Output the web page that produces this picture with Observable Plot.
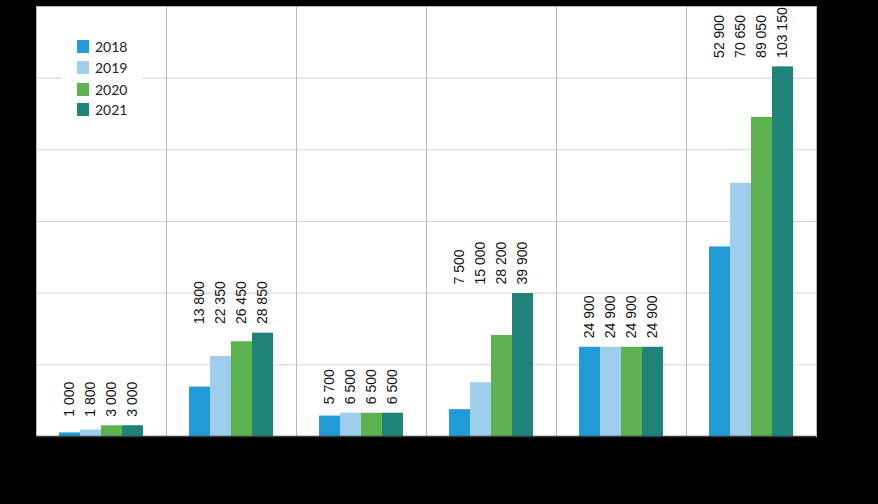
<!DOCTYPE html>
<html>
<head>
<meta charset="utf-8">
<script src="https://cdn.jsdelivr.net/npm/d3@7"></script>
<script src="https://cdn.jsdelivr.net/npm/@observablehq/plot@0.6"></script>
<style>
  html, body { margin: 0; padding: 0; background: #000; }
  #wrap { position: relative; width: 878px; height: 504px; overflow: hidden; background: #000; }
  #legend { position: absolute; left: 62px; top: 30px; width: 80px; height: 92px; background: #fff;
            font-family: Lato, "Open Sans", sans-serif; font-size: 14px; color: #222; }
  .item { position: absolute; left: 15px; height: 14px; display: flex; align-items: center; }
  .sw { width: 12px; height: 13px; margin-right: 6px; }
</style>
</head>
<body>
<div id="wrap"><div id="legend"></div></div>
<script>
// Data
const categories = ["1", "2", "3", "4", "5", "6"];
const years = ["2018", "2019", "2020", "2021"];
const v2018 = [1000, 13800, 5700, 7500, 24900, 52900];
const v2019 = [1800, 22350, 6500, 15000, 24900, 70650];
const v2020 = [3000, 26450, 6500, 28200, 24900, 89050];
const v2021 = [3000, 28850, 6500, 39900, 24900, 103150];
const yTicks = [0, 20000, 40000, 60000, 80000, 100000, 120000];
const colors = ["#209bd7", "#9fcdec", "#5cb24e", "#1f8379"];

const series = [v2018, v2019, v2020, v2021];
const data = categories.flatMap((c, i) => {
  const mx = Math.max(...series.map(s => s[i]));
  return years.map((y, j) => ({category: c, year: y, value: series[j][i], max: mx}));
});
const fmt = v => d3.format(",")(v).replace(/,/g, " ");

const chart = Plot.plot({
  width: 878,
  height: 504,
  marginTop: 6,
  marginBottom: 68,
  marginLeft: 36,
  marginRight: 62,
  style: {background: "#000", overflow: "visible"},
  facet: {data, x: "category"},
  fx: {domain: categories, padding: 0, axis: null},
  x: {domain: years, paddingInner: 0, paddingOuter: 1, axis: null},
  y: {domain: [0, 120000], axis: null},
  color: {domain: years, range: colors},
  marks: [
    Plot.frame({fill: "#fff", stroke: "none"}),
    Plot.ruleY(yTicks, {stroke: "#d4d4d4", strokeWidth: 1}),
    Plot.barY(data, {x: "year", y: "value", fill: "year"}),
    Plot.text(data, {
      x: "year", y: "max", text: d => fmt(d.value),
      rotate: -90, textAnchor: "start", dy: -9,
      fontSize: 14, fontFamily: "'Liberation Sans', Arial, sans-serif", fill: "#111"
    }),
    Plot.frame({fill: "none", stroke: "#b8b8b8", strokeWidth: 1}),
    Plot.ruleY([0], {stroke: "#3a3a3a", strokeWidth: 1.5})
  ]
});
document.getElementById("wrap").prepend(chart);

// Legend
const legend = document.getElementById("legend");
const rowTops = [9, 30, 52, 72];
years.forEach((y, i) => {
  const item = document.createElement("div");
  item.className = "item";
  item.style.top = rowTops[i] + "px";
  const sw = document.createElement("div");
  sw.className = "sw";
  sw.style.background = colors[i];
  const t = document.createElement("span");
  t.textContent = y;
  item.appendChild(sw);
  item.appendChild(t);
  legend.appendChild(item);
});
</script>
</body>
</html>
